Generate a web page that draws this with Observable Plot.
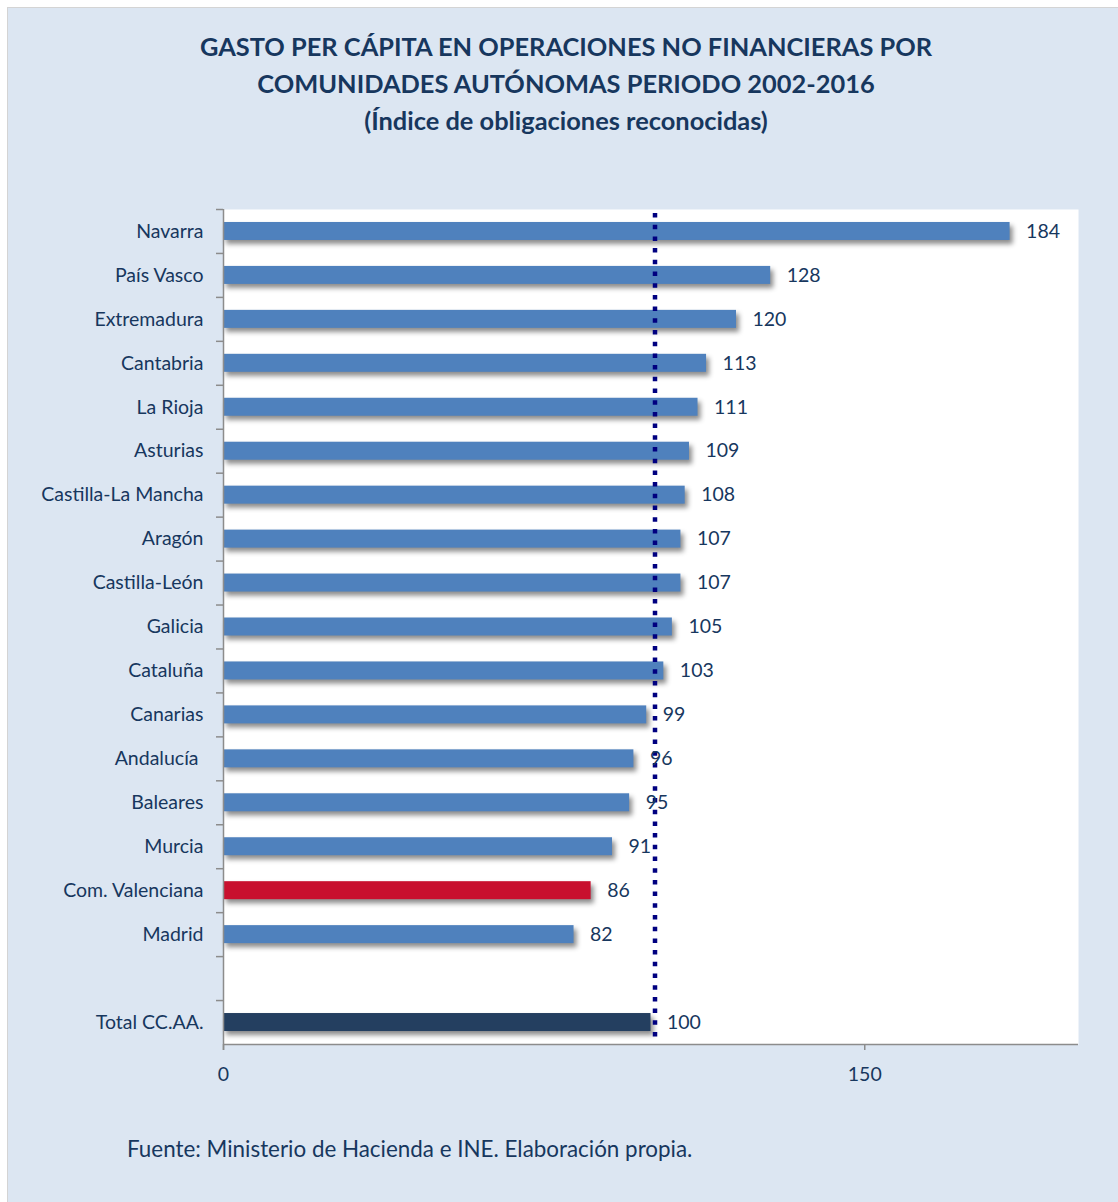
<!DOCTYPE html>
<html>
<head>
<meta charset="utf-8">
<script src="https://cdn.jsdelivr.net/npm/d3@7"></script>
<script src="https://cdn.jsdelivr.net/npm/@observablehq/plot@0.6"></script>
<style>
  html, body { margin: 0; padding: 0; background: #ffffff; }
  #page {
    position: absolute; left: 7px; top: 7px; width: 1111px; height: 1195px;
    background: #dce6f2; border-top: 1px solid #d4d4d4; border-left: 1px solid #d4d4d4;
    font-family: Lato, sans-serif;
  }
  #title {
    position: absolute; left: 0; top: 20px; width: 1116px; text-align: center;
    font-weight: bold; font-size: 25.4px; line-height: 37px; color: #17375e;
  }
  #chart { position: absolute; left: -8px; top: 152px; }
  #caption {
    position: absolute; left: 119px; top: 1127px; font-size: 22.4px; color: #17375e;
  }
</style>
</head>
<body>
<div id="page">
  <div id="title">GASTO PER CÁPITA EN OPERACIONES NO FINANCIERAS POR<br>COMUNIDADES AUTÓNOMAS PERIODO 2002-2016<br>(Índice de obligaciones reconocidas)</div>
  <div id="chart"></div>
  <div id="caption">Fuente: Ministerio de Hacienda e INE. Elaboración propia.</div>
</div>
<script>
const regions = ["Navarra","País Vasco","Extremadura","Cantabria","La Rioja","Asturias","Castilla-La Mancha","Aragón","Castilla-León","Galicia","Cataluña","Canarias","Andalucía ","Baleares","Murcia","Com. Valenciana","Madrid"];
const regionValues = [184,128,120,113,111,109,108,107,107,105,103,99,96,95,91,86,82];
const totalLabel = "Total CC.AA.";
const totalValue = 100;
const referenceValue = 100;
const highlighted = "Com. Valenciana";
const xTicks = [0, 150];
const xDomain = [0, 200];

const yDomain = [...regions, "", totalLabel];
const data = regions.map((r, i) => ({name: r, value: regionValues[i], kind: r === highlighted ? "hl" : "base"}));
data.push({name: totalLabel, value: totalValue, kind: "total"});

const W = 1118, H = 934, mt = 49, mb = 50, ml = 223, mr = 40;
const step = (H - mt - mb) / yDomain.length;
const barH = 18;
const inset = (step - barH) / 2;
const gray = "#8c8c8c";
const textColor = "#17375e";
const fs = 19.5;

const chart = Plot.plot({
  width: W, height: H,
  marginTop: mt, marginBottom: mb, marginLeft: ml, marginRight: mr,
  style: {fontFamily: "Lato, sans-serif", fontSize: fs + "px", background: "transparent", color: textColor},
  x: {domain: xDomain, label: null},
  y: {domain: yDomain, padding: 0, round: false, label: null},
  color: {domain: ["base","hl","total"], range: ["#4f81bd","#c8102e","#243f60"]},
  marks: [
    Plot.frame({fill: "white", stroke: "none"}),
    Plot.barX(data, {x: "value", y: "name", fill: "kind", insetTop: inset, insetBottom: inset}),
    Plot.ruleX([referenceValue], {stroke: "#000080", strokeWidth: 4.5, strokeDasharray: "4.5,7.2", dx: 4, insetTop: 4, insetBottom: 4}),
    Plot.text(data, {x: "value", y: "name", text: d => String(d.value), dx: 16, textAnchor: "start", fill: textColor, fontSize: fs}),
    Plot.text(data, {y: "name", text: "name", frameAnchor: "left", dx: -20, textAnchor: "end", fill: textColor, fontSize: fs}),
    Plot.axisY({tickSize: 7, tickFormat: () => "", dy: -step / 2, stroke: gray, strokeWidth: 1.5, label: null}),
    Plot.ruleX([0], {stroke: gray, strokeWidth: 1.5, insetBottom: -6}),
    Plot.ruleY([totalLabel], {dy: step / 2, x1: xDomain[0], x2: xDomain[1], stroke: gray, strokeWidth: 1.5}),
    Plot.axisX({ticks: xTicks, tickSize: 6, tickPadding: 17, stroke: gray, strokeWidth: 1.5, fill: textColor, fontSize: fs, label: null})
  ]
});
chart.querySelectorAll('g[aria-label="bar"]').forEach(g => {
  g.style.filter = "drop-shadow(3px 4px 2.5px rgba(0,0,0,0.45))";
});
document.getElementById("chart").appendChild(chart);
</script>
</body>
</html>
